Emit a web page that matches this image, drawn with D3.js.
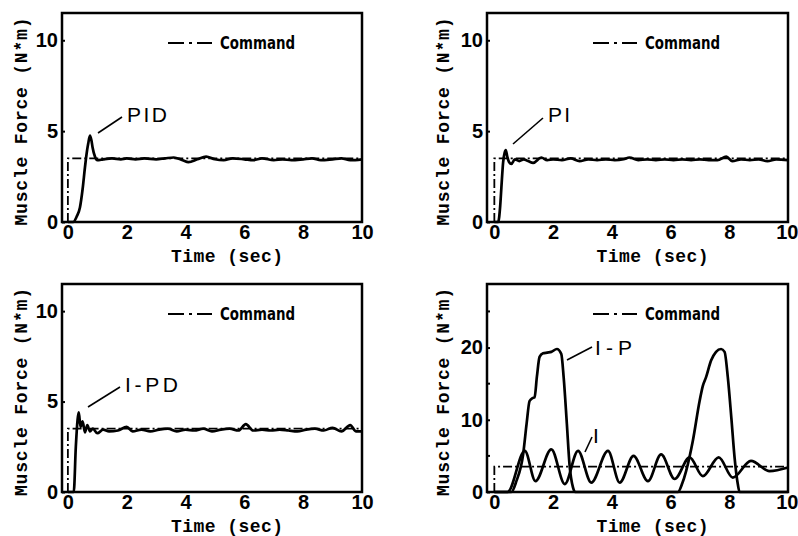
<!DOCTYPE html>
<html>
<head>
<meta charset="utf-8">
<script src="https://cdn.jsdelivr.net/npm/d3@7"></script>
<style>
  body { margin: 0; background: #fff; }
  svg { display: block; }
</style>
</head>
<body>
<script>
// Values
const xTicks = [0, 2, 4, 6, 8, 10];
const commandLevel = 3.5;

// PID response
const pidT = [0, 0.18, 0.3, 0.41, 0.5, 0.58, 0.64, 0.69, 0.75, 0.8, 0.84, 0.92, 1.0, 1.2, 1.5, 1.8, 2.0, 2.3, 2.6, 3.0, 3.3, 3.6, 3.9, 4.1, 4.4, 4.7, 5.0, 5.3, 5.6, 6.0, 6.3, 6.6, 7.0, 7.3, 7.6, 8.0, 8.3, 8.6, 9.0, 9.3, 9.6, 10];
const pidF = [0, 0, 0.3, 0.8, 1.8, 3.0, 3.8, 4.3, 4.75, 4.5, 4.1, 3.6, 3.4, 3.45, 3.5, 3.45, 3.5, 3.45, 3.5, 3.45, 3.5, 3.55, 3.4, 3.3, 3.45, 3.6, 3.45, 3.4, 3.5, 3.45, 3.4, 3.5, 3.4, 3.45, 3.4, 3.45, 3.5, 3.4, 3.45, 3.5, 3.4, 3.45];

// PI response
const piT = [0, 0.13, 0.2, 0.24, 0.3, 0.35, 0.39, 0.44, 0.5, 0.58, 0.7, 0.85, 1.0, 1.15, 1.32, 1.6, 1.8, 2.0, 2.3, 2.6, 2.9, 3.2, 3.5, 3.8, 4.1, 4.4, 4.6, 4.9, 5.2, 5.5, 5.8, 6.1, 6.4, 6.7, 7.0, 7.3, 7.6, 7.9, 8.1, 8.4, 8.7, 9.0, 9.3, 9.6, 10];
const piF = [0, 0, 0.9, 1.9, 3.3, 3.8, 3.95, 3.6, 3.3, 3.2, 3.45, 3.35, 3.45, 3.35, 3.25, 3.55, 3.4, 3.45, 3.4, 3.5, 3.35, 3.45, 3.4, 3.45, 3.4, 3.45, 3.55, 3.4, 3.45, 3.4, 3.45, 3.4, 3.45, 3.4, 3.45, 3.4, 3.4, 3.6, 3.35, 3.45, 3.4, 3.45, 3.35, 3.45, 3.4];

// I-PD response
const ipdT = [0, 0.2, 0.27, 0.33, 0.37, 0.43, 0.5, 0.58, 0.66, 0.75, 0.85, 1.0, 1.2, 1.4, 1.7, 2.0, 2.2, 2.5, 2.8, 3.1, 3.4, 3.7, 4.0, 4.3, 4.6, 4.9, 5.2, 5.5, 5.8, 6.05, 6.3, 6.6, 6.9, 7.2, 7.5, 7.8, 8.1, 8.4, 8.7, 9.0, 9.3, 9.6, 9.8, 10];
const ipdF = [0, 0, 2.5, 4.0, 4.4, 3.6, 3.9, 3.3, 3.7, 3.35, 3.5, 3.25, 3.45, 3.35, 3.4, 3.6, 3.35, 3.45, 3.35, 3.45, 3.5, 3.35, 3.45, 3.4, 3.5, 3.35, 3.45, 3.5, 3.4, 3.75, 3.4, 3.45, 3.4, 3.45, 3.4, 3.35, 3.45, 3.5, 3.4, 3.55, 3.35, 3.7, 3.35, 3.35];

// I-P response
const ipT = [0, 0.58, 0.75, 0.98, 1.1, 1.2, 1.3, 1.37, 1.45, 1.54, 1.66, 1.8, 1.94, 2.13, 2.28, 2.36, 2.47, 2.56, 2.68, 2.75, 6.25, 6.4, 6.53, 6.76, 6.99, 7.1, 7.21, 7.38, 7.55, 7.72, 7.84, 7.95, 8.07, 8.18, 8.29, 8.35, 10];
const ipF = [0, 0, 1.5, 5.2, 9.5, 12.6, 13.0, 13.1, 16, 18.7, 19.2, 19.3, 19.4, 19.8, 19.1, 15.9, 9.4, 3.8, 0.6, 0, 0, 1.2, 2.9, 7.1, 12.6, 14.7, 15.9, 18.2, 19.4, 19.8, 19.4, 15.9, 10.3, 4.8, 1.1, 0, 0];

// I response (peaks and troughs)
const iT = [0, 0.45, 1.04, 1.4, 1.94, 2.4, 2.85, 3.3, 3.87, 4.27, 4.74, 5.23, 5.68, 6.14, 6.65, 7.1, 7.64, 8.12, 8.74, 9.37, 10];
const iF = [0, 0, 5.7, 1.5, 5.9, 1.1, 5.7, 1.3, 5.7, 1.3, 5.0, 1.5, 5.2, 1.8, 4.8, 2.2, 4.8, 2.0, 4.3, 2.9, 3.4];

const zip = (t, v) => t.map((d, i) => ({ t: d, v: v[i] }));

// Panel layout
const panels = [
  { x0: 62, x1: 362, y0: 13, y1: 222, tmin: -0.2, ymax: 11.5, yTicks: [0, 5, 10], minor: [],
    series: [zip(pidT, pidF)], titleY: 21,
    notes: [{ text: "PID", x: 127, y: 122, w: 40, line: [98, 133, 122, 117] }] },
  { x0: 487, x1: 788, y0: 13, y1: 222, tmin: -0.25, ymax: 11.5, yTicks: [0, 5, 10], minor: [],
    series: [zip(piT, piF)], titleY: 443,
    notes: [{ text: "PI", x: 548, y: 122, w: 22, line: [513, 144, 543, 118] }] },
  { x0: 62, x1: 362, y0: 284, y1: 492, tmin: -0.2, ymax: 11.5, yTicks: [0, 5, 10], minor: [],
    series: [zip(ipdT, ipdF)], titleY: 21,
    notes: [{ text: "I-PD", x: 125, y: 392, w: 53, line: [88, 407, 120, 387] }] },
  { x0: 487, x1: 788, y0: 284, y1: 492, tmin: -0.25, ymax: 28.8, yTicks: [0, 10, 20], minor: [5, 15, 25],
    series: [zip(ipT, ipF), zip(iT, iF)], titleY: 443,
    notes: [{ text: "I-P", x: 595, y: 355, w: 37, line: [567, 360, 592, 347] },
            { text: "I", x: 593, y: 443, w: 7, line: [585, 452, 592, 437] }] }
];

const svg = d3.select("body").append("svg")
  .attr("width", 798)
  .attr("height", 536);

panels.forEach(p => {
  const x = d3.scaleLinear().domain([p.tmin, 10]).range([p.x0, p.x1]);
  const y = d3.scaleLinear().domain([0, p.ymax]).range([p.y1, p.y0]);
  const g = svg.append("g");

  // command (dash-dot)
  const cmd = [{ t: 0, v: 0 }, { t: 0, v: commandLevel }, { t: 10, v: commandLevel }];
  g.append("path")
    .datum(cmd)
    .attr("fill", "none")
    .attr("stroke", "#000")
    .attr("stroke-width", 1.8)
    .attr("stroke-dasharray", "9,3,2,3")
    .attr("d", d3.line().x(d => x(d.t)).y(d => y(d.v)));

  // responses
  p.series.forEach(s => {
    g.append("path")
      .datum(s)
      .attr("fill", "none")
      .attr("stroke", "#000")
      .attr("stroke-width", 2.7)
      .attr("stroke-linejoin", "round")
      .attr("d", d3.line().curve(d3.curveMonotoneX).x(d => x(d.t)).y(d => y(d.v)));
  });

  // frame
  g.append("rect")
    .attr("x", p.x0).attr("y", p.y0)
    .attr("width", p.x1 - p.x0).attr("height", p.y1 - p.y0)
    .attr("fill", "none")
    .attr("stroke", "#000")
    .attr("stroke-width", 2.5);

  // y axis
  const ya = g.append("g")
    .attr("transform", `translate(${p.x0},0)`)
    .call(d3.axisLeft(y).tickValues(p.yTicks).tickSize(-3).tickPadding(4).tickFormat(d3.format("d")));
  ya.select(".domain").remove();
  ya.selectAll("line").attr("stroke-width", 2);
  ya.selectAll("text")
    .style("font-family", "Liberation Sans, Arial, sans-serif")
    .style("font-size", "20px")
    .style("font-weight", "bold");

  g.selectAll(".minor")
    .data(p.minor)
    .enter()
    .append("line")
    .attr("x1", p.x0).attr("x2", p.x0 + 3)
    .attr("y1", d => y(d)).attr("y2", d => y(d))
    .attr("stroke", "#000").attr("stroke-width", 2);

  // x axis
  const xa = g.append("g")
    .attr("transform", `translate(0,${p.y1})`)
    .call(d3.axisBottom(x).tickValues(xTicks).tickSize(0).tickPadding(3).tickFormat(d3.format("d")));
  xa.select(".domain").remove();
  xa.selectAll("text")
    .style("font-family", "Liberation Sans, Arial, sans-serif")
    .style("font-size", "20px")
    .style("font-weight", "bold");
  // keep the last label inside the page on the right-hand panels
  if (p.x1 > 780) {
    xa.selectAll(".tick")
      .filter(d => d === 10)
      .select("text")
      .attr("text-anchor", "end")
      .attr("x", 798 - p.x1);
  }

  // axis titles
  g.append("text")
    .attr("x", (p.x0 + p.x1) / 2 + 15)
    .attr("y", p.y1 + 40)
    .attr("text-anchor", "middle")
    .attr("textLength", 112)
    .attr("lengthAdjust", "spacing")
    .style("font-family", "Liberation Mono, DejaVu Sans Mono, monospace")
    .style("font-size", "18px")
    .style("font-weight", "bold")
    .text("Time (sec)");

  g.append("text")
    .attr("transform", `translate(${p.titleY},${p.y0 + (p.y1 - p.y0) / 2 + 4}) rotate(-90)`)
    .attr("text-anchor", "middle")
    .attr("dy", "0.35em")
    .attr("textLength", 208)
    .attr("lengthAdjust", "spacing")
    .style("font-family", "Liberation Mono, DejaVu Sans Mono, monospace")
    .style("font-size", "18px")
    .style("font-weight", "bold")
    .text("Muscle Force (N*m)");

  // legend
  const lx = p.x0 + 106;
  const ly = p.y0 + 30;
  g.append("line")
    .attr("x1", lx).attr("x2", lx + 44)
    .attr("y1", ly).attr("y2", ly)
    .attr("stroke", "#000")
    .attr("stroke-width", 1.8)
    .attr("stroke-dasharray", "16,5,3,5");
  g.append("text")
    .attr("x", lx + 52)
    .attr("y", ly)
    .attr("dy", "0.36em")
    .attr("textLength", 75)
    .attr("lengthAdjust", "spacingAndGlyphs")
    .style("font-family", "DejaVu Sans Condensed, DejaVu Sans, sans-serif")
    .style("font-size", "17px")
    .style("font-weight", "bold")
    .text("Command");

  // curve labels with pointer lines
  p.notes.forEach(n => {
    g.append("line")
      .attr("x1", n.line[0]).attr("y1", n.line[1])
      .attr("x2", n.line[2]).attr("y2", n.line[3])
      .attr("stroke", "#000")
      .attr("stroke-width", 1.6);
    g.append("text")
      .attr("x", n.x)
      .attr("y", n.y)
      .attr("textLength", n.w)
      .attr("lengthAdjust", "spacing")
      .style("font-family", "Liberation Sans, Arial, sans-serif")
      .style("font-size", "21px")
      .text(n.text);
  });
});
</script>
</body>
</html>
